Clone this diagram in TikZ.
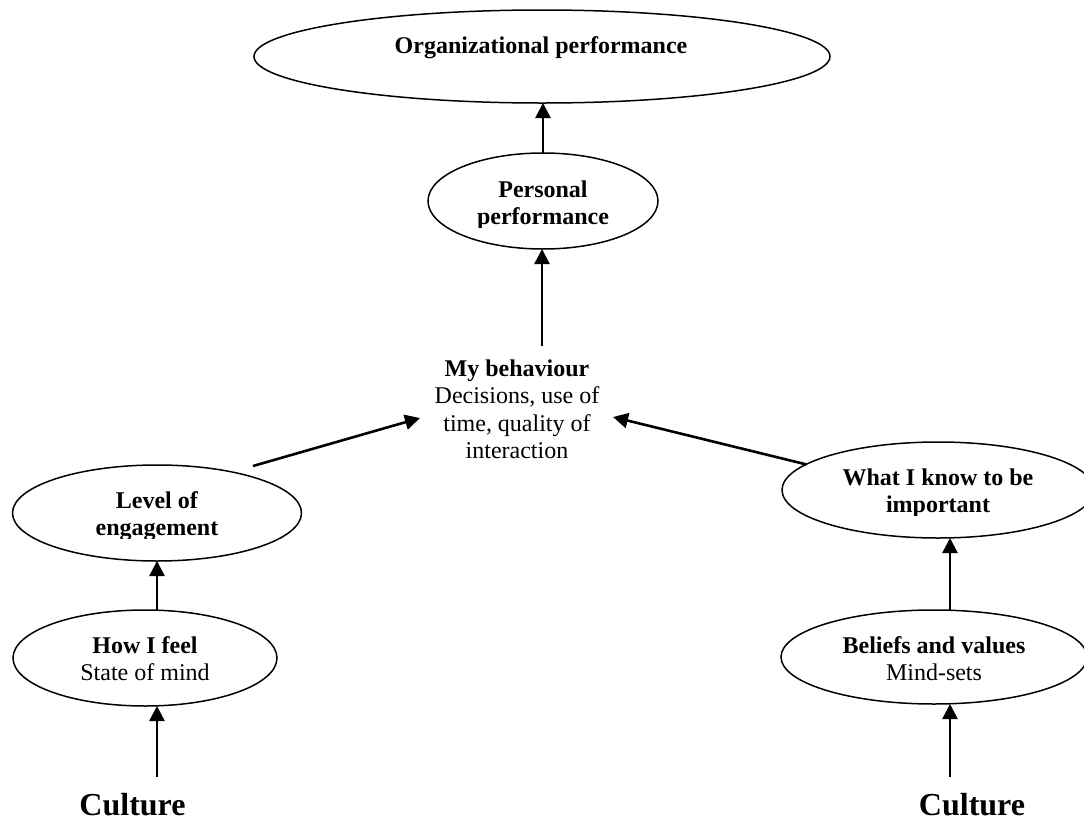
\documentclass[tikz,border=0pt]{standalone}
\usepackage{fontspec}
\setmainfont{Liberation Serif}
\usetikzlibrary{shapes.geometric,arrows.meta}
% centred lines whose first baseline is the box baseline
\newcommand{\stackrows}[1]{\begin{tabular}[t]{@{}c@{}}#1\end{tabular}}

\begin{document}
\begin{tikzpicture}[x=0.5pt,y=-0.5pt,
  bubble/.style={draw, ellipse, line width=0.75pt, inner sep=0pt, outer sep=0pt},
  lbl/.style={anchor=base, inner sep=0pt, outer sep=0pt, font=\fontsize{12pt}{13.8pt}\selectfont},
  big/.style={anchor=base, inner sep=0pt, outer sep=0pt, font=\fontsize{16pt}{18pt}\selectfont\bfseries},
  arr/.style={line width=1.3pt, -{Triangle[length=7.5pt,width=7.5pt]}}]
\useasboundingbox (0,0) rectangle (1084,820);
\clip (0,0) rectangle (1084,820);

% ellipses
\node[bubble, minimum width=288pt, minimum height=46.5pt] (org)  at (542,56.5) {};
\node[bubble, minimum width=115pt, minimum height=48pt]   (pers) at (543,201) {};
\node[bubble, minimum width=144.5pt, minimum height=48pt] (eng)  at (157,513) {};
\node[bubble, minimum width=132pt, minimum height=48pt]   (feel) at (145,658) {};
\node[bubble, minimum width=156pt, minimum height=48pt]   (know) at (938,490) {};
\node[bubble, minimum width=153pt, minimum height=47pt]   (bel)  at (934,657) {};

% texts
\node[lbl] (orgT) at (541,53) {\textbf{Organizational performance}};
\begin{scope}
  \clip (420,150) rectangle (670,227);
  \node[lbl] (persT) at (543,197) {\stackrows{\textbf{Personal}\\\textbf{performance}}};
\end{scope}
\node[lbl] (beh) at (517,376) {\stackrows{\textbf{My behaviour}\\Decisions, use of\\time, quality of\\interaction}};
\begin{scope}
  \clip (10,470) rectangle (305,538);
  \node[lbl] (engT) at (157,508) {\stackrows{\textbf{Level of}\\\textbf{engagement}}};
\end{scope}
\node[lbl] (feelT) at (145,653) {\stackrows{\textbf{How I feel}\\State of mind}};
\begin{scope}
  \clip (785,445) rectangle (1084,515);
  \node[lbl] (knowT) at (938,485) {\stackrows{\textbf{What I know to be}\\\textbf{important}}};
\end{scope}
\node[lbl] (belT) at (934,653) {\stackrows{\textbf{Beliefs and values}\\Mind-sets}};
\node[big] (cultL) at (132.5,815) {Culture};
\node[big] (cultR) at (972,815) {Culture};

% connector positions
\coordinate (lcol) at (157,0);
\coordinate (rcol) at (950,0);
\coordinate (behTop) at (542,346);
\coordinate (engOut) at (253,466);
\coordinate (behL) at (420,418);
\coordinate (behR) at (613,417);
\coordinate (cultLtop) at (157,777);
\coordinate (cultRtop) at (950,777);

% arrows
\draw[arr] (pers.north) -- (pers.north |- org.south);
\draw[arr] (behTop) -- (behTop |- pers.south);
\draw[arr] (engOut) -- (behL);
\draw[arr] (know.169) -- (behR);
\draw[arr] (lcol |- feel.north) -- (lcol |- eng.south);
\draw[arr] (cultLtop) -- (lcol |- feel.south);
\draw[arr] (rcol |- bel.north) -- (rcol |- know.south);
\draw[arr] (cultRtop) -- (rcol |- bel.south);
\end{tikzpicture}
\end{document}
